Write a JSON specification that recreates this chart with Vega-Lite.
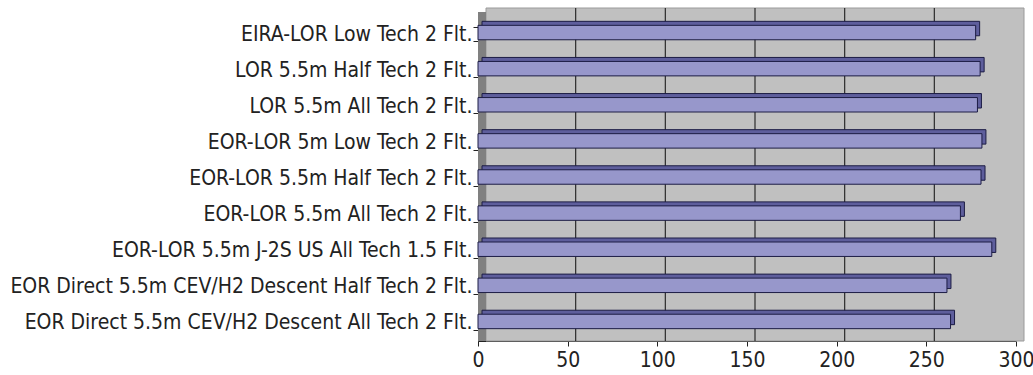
{
  "$schema": "https://vega.github.io/schema/vega-lite/v6.json",
  "width": 538,
  "height": 325,
  "autosize": {"type": "none"},
  "padding": {"left": 478, "top": 16, "right": 17, "bottom": 34},
  "background": "white",
  "config": {
    "view": {"stroke": null, "fill": "#c0c0c0"},
    "font": "DejaVu Sans Condensed, sans-serif"
  },
  "datasets": {
    "bars": [
      {"scenario": "EIRA-LOR Low Tech 2 Flt.", "value": 277.5},
      {"scenario": "LOR 5.5m Half Tech 2 Flt.", "value": 280},
      {"scenario": "LOR 5.5m All Tech 2 Flt.", "value": 278.5},
      {"scenario": "EOR-LOR 5m Low Tech 2 Flt.", "value": 281},
      {"scenario": "EOR-LOR 5.5m Half Tech 2 Flt.", "value": 280.5},
      {"scenario": "EOR-LOR 5.5m All Tech 2 Flt.", "value": 269},
      {"scenario": "EOR-LOR 5.5m J-2S US All Tech 1.5 Flt.", "value": 286.5},
      {"scenario": "EOR Direct 5.5m CEV/H2 Descent Half Tech 2 Flt.", "value": 261.5},
      {"scenario": "EOR Direct 5.5m CEV/H2 Descent All Tech 2 Flt.", "value": 263.5}
    ],
    "grid": [{"v": 50}, {"v": 100}, {"v": 150}, {"v": 200}, {"v": 250}],
    "wall": [{"a": 0, "b": 300}],
    "left": [{"a": 0}]
  },
  "layer": [
    {
      "data": {"name": "wall"},
      "mark": {"type": "rect", "fill": "#c0c0c0", "stroke": "#9a9a9a", "xOffset": 8, "x2Offset": 8, "yOffset": -8, "y2Offset": -8},
      "encoding": {
        "x": {
          "field": "a", "type": "quantitative", "title": null,
          "scale": {"domain": [0, 300], "nice": false},
          "axis": {
            "values": [0, 50, 100, 150, 200, 250, 300], "grid": false, "title": null,
            "labelFontSize": 21, "labelColor": "#222222", "labelPadding": 3,
            "tickSize": 5, "tickColor": "#222222", "domainColor": "#222222",
            "labelFlush": false, "labelOverlap": false
          }
        },
        "x2": {"field": "b"}
      }
    },
    {
      "data": {"name": "left"},
      "mark": {"type": "rule", "color": "#808080", "strokeWidth": 8, "xOffset": 4, "yOffset": -4, "y2Offset": -4},
      "encoding": {"x": {"field": "a", "type": "quantitative", "title": null}}
    },
    {
      "data": {"name": "grid"},
      "mark": {"type": "rule", "color": "#2a2a2a", "strokeWidth": 1.2, "xOffset": 8, "yOffset": -8, "y2Offset": -8},
      "encoding": {"x": {"field": "v", "type": "quantitative", "title": null}}
    },
    {
      "data": {"name": "bars"},
      "mark": {"type": "bar", "fill": "#5e5e9c", "stroke": "#1c1c44", "strokeWidth": 1, "xOffset": 4, "x2Offset": 4, "yOffset": -5.5, "y2Offset": -5.5},
      "encoding": {
        "y": {
          "field": "scenario", "type": "nominal", "sort": null, "title": null,
          "scale": {"paddingInner": 0.6, "paddingOuter": 0.3},
          "axis": {
            "title": null,
            "labelFontSize": 21, "labelColor": "#222222", "labelPadding": 1,
            "tickBand": "extent", "tickSize": 5, "tickColor": "#222222",
            "domainColor": "#222222", "labelLimit": 0
          }
        },
        "x": {"field": "value", "type": "quantitative", "title": null}
      }
    },
    {
      "data": {"name": "bars"},
      "mark": {"type": "bar", "fill": "#9797cb", "stroke": "#1c1c44", "strokeWidth": 1, "yOffset": -1.5, "y2Offset": -1.5},
      "encoding": {
        "y": {"field": "scenario", "type": "nominal", "sort": null, "title": null},
        "x": {"field": "value", "type": "quantitative", "title": null}
      }
    }
  ]
}
